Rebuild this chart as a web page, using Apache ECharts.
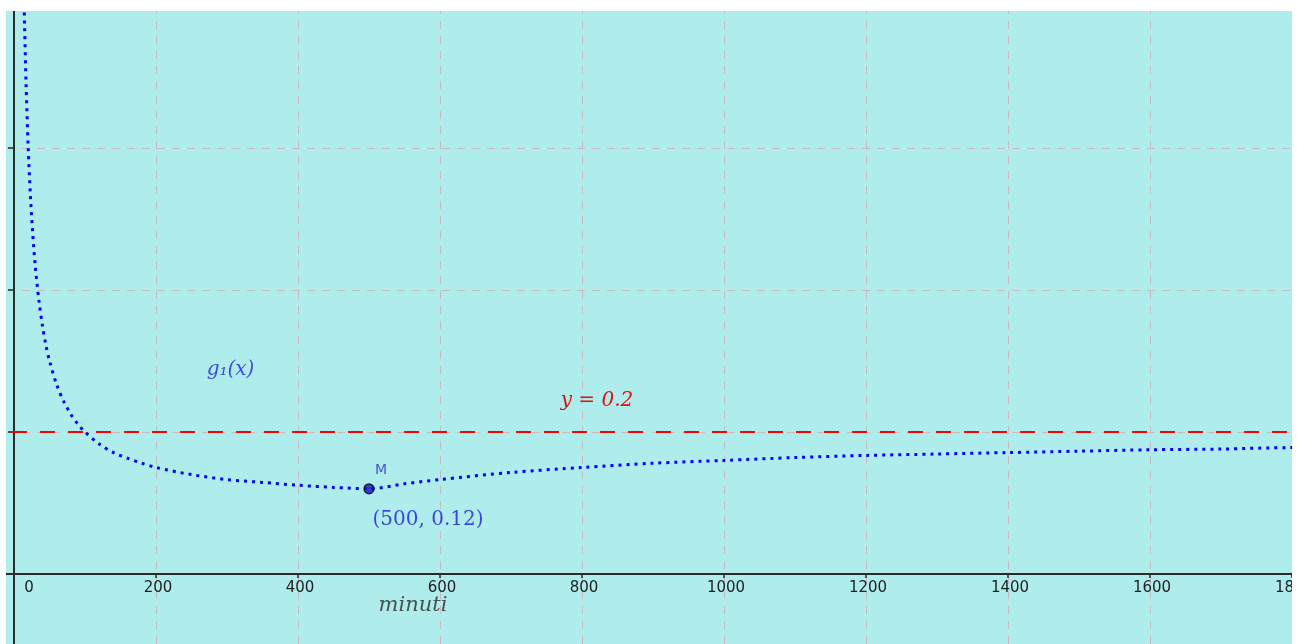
<!DOCTYPE html>
<html>
<head>
<meta charset="utf-8">
<title>g1(x)</title>
<script src="https://cdn.jsdelivr.net/npm/echarts@6/dist/echarts.min.js"></script>
<style>
  html, body { margin: 0; padding: 0; background: #ffffff; }
  #chart {
    position: absolute; left: 6px; top: 11px;
    width: 1286px; height: 633px;
    background: #AFEDED;
  }
</style>
</head>
<body>
<div id="chart"></div>
<script>
// Cost per minute g1(x) sampled along the plotted curve
const minutes = [
  13, 15, 17, 20, 23, 26, 30, 35, 40, 45, 50, 60, 70, 80, 90, 100,
  120, 140, 160, 180, 200, 250, 300, 350, 400, 450, 500,
  550, 600, 700, 800, 900, 1000, 1100, 1200, 1300, 1400, 1500, 1600, 1700, 1800, 1830
];
const costPerMinute = [
  0.870, 0.770, 0.690, 0.600, 0.535, 0.485, 0.433, 0.386, 0.350, 0.322, 0.300, 0.267, 0.243, 0.225, 0.211, 0.200,
  0.183, 0.171, 0.163, 0.156, 0.150, 0.140, 0.133, 0.129, 0.125, 0.122, 0.120,
  0.127, 0.133, 0.143, 0.150, 0.156, 0.160, 0.164, 0.167, 0.169, 0.171, 0.173, 0.175, 0.176, 0.178, 0.178
];
// Minimum point M and the horizontal reference level
const pointM = [500, 0.12];
const thresholdY = 0.2;
// Axis ranges and tick spacing
const xRange = [-200, 1800];
const xStep = 200;
const yRange = [-0.2, 0.8];
const yStep = 0.2;

const curve = minutes.map((m, i) => [m, costPerMinute[i]]);

const gridDash = { color: '#C9BABE', width: 1, type: [8, 7] };
const axisColor = '#2b2b2b';
const serif = 'DejaVu Serif';

// Plot area is wider/taller than the canvas so that the origin sits near the
// lower-left corner while the axes keep round tick steps.
const gridBox = { left: -134, right: 0, top: -5, bottom: -72 };
const chartEl = document.getElementById('chart');
const plotHeight = chartEl.clientHeight - gridBox.top - gridBox.bottom;
// distance from the bottom of the plot area up to y = 0
const zeroLift = plotHeight * (0 - yRange[0]) / (yRange[1] - yRange[0]);

const chart = echarts.init(chartEl, null, { renderer: 'canvas' });

chart.setOption({
  animation: false,
  backgroundColor: '#AFEDED',
  grid: Object.assign({ containLabel: false, outerBoundsMode: 'none' }, gridBox),
  xAxis: {
    type: 'value',
    position: 'bottom',
    offset: -zeroLift,
    min: xRange[0], max: xRange[1], interval: xStep,
    axisLine: { onZero: false, lineStyle: { color: axisColor, width: 2 } },
    axisTick: { show: true, length: 4, lineStyle: { color: axisColor, width: 1.5 } },
    axisLabel: {
      show: true,
      margin: 7,
      color: '#222',
      fontFamily: 'DejaVu Sans',
      fontSize: 15,
      padding: [0, 0, 0, 4],
      formatter: v => v === 0 ? '{z|0}' : (v < 0 ? '' : String(v)),
      rich: { z: { fontFamily: 'DejaVu Sans', fontSize: 15, color: '#222', padding: [0, 0, 0, 26] } }
    },
    splitLine: { show: true, lineStyle: gridDash }
  },
  yAxis: {
    type: 'value',
    min: yRange[0], max: yRange[1], interval: yStep,
    axisLine: { onZero: true, lineStyle: { color: axisColor, width: 2 } },
    axisTick: { show: true, length: 6, lineStyle: { color: axisColor, width: 1.5 } },
    axisLabel: { show: false },
    splitLine: { show: true, lineStyle: gridDash }
  },
  series: [
    {
      name: 'g1',
      type: 'line',
      data: curve,
      showSymbol: false,
      smooth: 0.3,
      clip: true,
      lineStyle: { color: '#0000ff', width: 3, type: [3, 5], cap: 'butt' },
      markLine: {
        silent: true,
        symbol: 'none',
        data: [{ yAxis: thresholdY }],
        lineStyle: { color: '#ff0000', width: 2, type: [15, 13] },
        label: {
          show: true,
          position: 'insideMiddleTop',
          distance: 21,
          offset: [15, 0],
          formatter: 'y = ' + thresholdY,
          color: '#e01010',
          fontFamily: serif,
          fontStyle: 'italic',
          fontSize: 20
        }
      },
      z: 3
    },
    {
      name: 'M',
      type: 'scatter',
      data: [pointM],
      symbol: 'circle',
      symbolSize: 10,
      itemStyle: { color: '#1010c0', borderColor: '#000000', borderWidth: 1.2 },
      label: {
        show: true,
        position: 'inside',
        offset: [12, -18],
        formatter: 'M',
        color: '#2a2ad0',
        fontFamily: 'DejaVu Sans',
        fontSize: 14
      },
      z: 5
    },
    {
      name: 'M coords',
      type: 'scatter',
      data: [pointM],
      symbolSize: 1,
      itemStyle: { color: 'rgba(0,0,0,0)' },
      label: {
        show: true,
        position: 'inside',
        offset: [59, 31],
        formatter: p => '(' + p.value[0] + ', ' + p.value[1] + ')',
        color: '#1a1ae0',
        fontFamily: serif,
        fontSize: 20
      },
      z: 5
    },
    {
      name: 'captions',
      type: 'scatter',
      symbolSize: 1,
      itemStyle: { color: 'rgba(0,0,0,0)' },
      data: [
        { value: [305, 0.287], label: { formatter: 'g₁(x)', color: '#2020e0' } },
        { value: [562, -0.044], label: { formatter: 'minuti', color: '#2a2a2a', fontSize: 21 } }
      ],
      label: {
        show: true,
        position: 'inside',
        fontFamily: serif,
        fontStyle: 'italic',
        fontSize: 20
      },
      z: 5
    }
  ]
});
</script>
</body>
</html>
